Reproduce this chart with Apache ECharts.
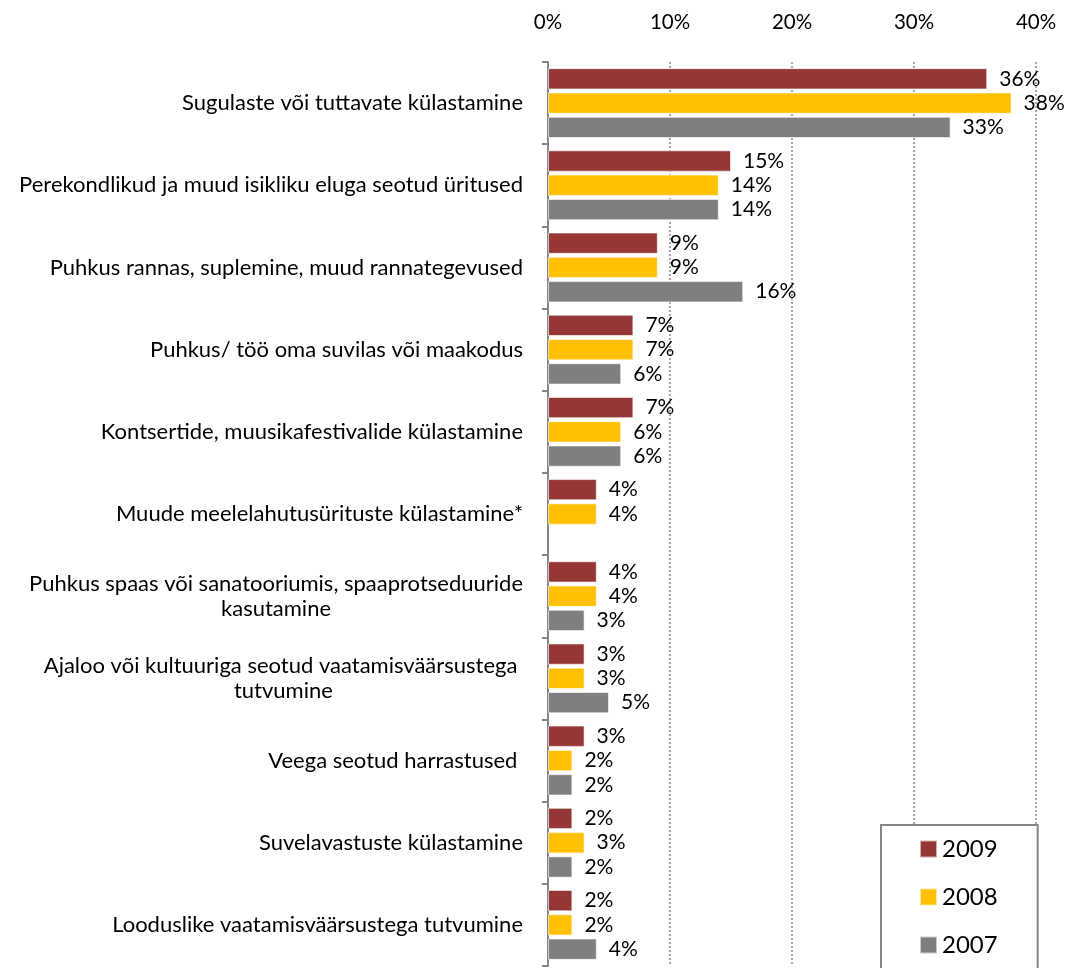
<!DOCTYPE html>
<html>
<head>
<meta charset="utf-8">
<script src="https://cdn.jsdelivr.net/npm/echarts@6/dist/echarts.min.js"></script>
<style>
  html, body { margin: 0; padding: 0; background: #fff; }
  #chart { width: 1074px; height: 968px; }
</style>
</head>
<body>
<div id="chart"></div>
<script>
var categories = [
  'Sugulaste või tuttavate külastamine',
  'Perekondlikud ja muud isikliku eluga seotud üritused',
  'Puhkus rannas, suplemine, muud rannategevused',
  'Puhkus/ töö oma suvilas või maakodus',
  'Kontsertide, muusikafestivalide külastamine',
  'Muude meelelahutusürituste külastamine*',
  'Puhkus spaas või sanatooriumis, spaaprotseduuride\nkasutamine',
  'Ajaloo või kultuuriga seotud vaatamisväärsustega \ntutvumine',
  'Veega seotud harrastused ',
  'Suvelavastuste külastamine',
  'Looduslike vaatamisväärsustega tutvumine'
];
var v2009 = [36, 15, 9, 7, 7, 4, 4, 3, 3, 2, 2];
var v2008 = [38, 14, 9, 7, 6, 4, 4, 3, 2, 3, 2];
var v2007 = [33, 14, 16, 6, 6, null, 3, 5, 2, 2, 4];
var xTicks = [0, 10, 20, 30, 40];

var font = 'Lato';
var chart = echarts.init(document.getElementById('chart'));

function makeSeries(name, data, color) {
  return {
    name: name,
    type: 'bar',
    data: data,
    barGap: '14%',
    barCategoryGap: '15%',
    itemStyle: { color: color, borderColor: 'rgba(255,255,255,0.6)', borderWidth: 1 },
    label: {
      show: true,
      position: 'right',
      distance: 12,
      formatter: '{c}%',
      color: '#000',
      fontFamily: font,
      fontSize: 21
    }
  };
}

var option = {
  animation: false,
  backgroundColor: '#fff',
  grid: { left: 548, right: 38, top: 62, bottom: 2, containLabel: false },
  xAxis: {
    type: 'value',
    position: 'top',
    min: 0,
    max: 40,
    interval: 10,
    axisLine: { show: false },
    axisTick: { show: false },
    axisLabel: {
      margin: 29,
      fontFamily: font,
      fontSize: 20.5,
      color: '#000',
      formatter: function (v) { return xTicks.indexOf(v) >= 0 ? v + '%' : ''; }
    },
    splitLine: { show: true, lineStyle: { color: '#8c8c8c', type: [2, 2], width: 1.5 } }
  },
  yAxis: {
    type: 'category',
    inverse: true,
    data: categories,
    axisLine: { show: true, lineStyle: { color: '#868686', width: 2 } },
    axisTick: { show: true, length: 6, lineStyle: { color: '#868686', width: 2 } },
    axisLabel: {
      margin: 25,
      formatter: function (v) {
        return v.split('\n').map(function (s) { return '{c|' + s + '}'; }).join('\n');
      },
      rich: {
        c: { align: 'center', fontFamily: font, fontSize: 22, color: '#000', lineHeight: 25 }
      }
    }
  },
  legend: {
    orient: 'vertical',
    left: 881,
    top: 825,
    height: 220,
    data: ['2009', '2008', '2007'],
    icon: 'rect',
    itemWidth: 17,
    itemHeight: 17,
    itemGap: 24,
    padding: [12, 40, 40, 38],
    borderColor: '#868686',
    borderWidth: 2,
    backgroundColor: '#fff',
    textStyle: { fontFamily: font, fontSize: 24, color: '#000' }
  },
  series: [
    makeSeries('2009', v2009, '#953735'),
    makeSeries('2008', v2008, '#ffc000'),
    makeSeries('2007', v2007, '#7f7f7f')
  ]
};
chart.setOption(option);
</script>
</body>
</html>
